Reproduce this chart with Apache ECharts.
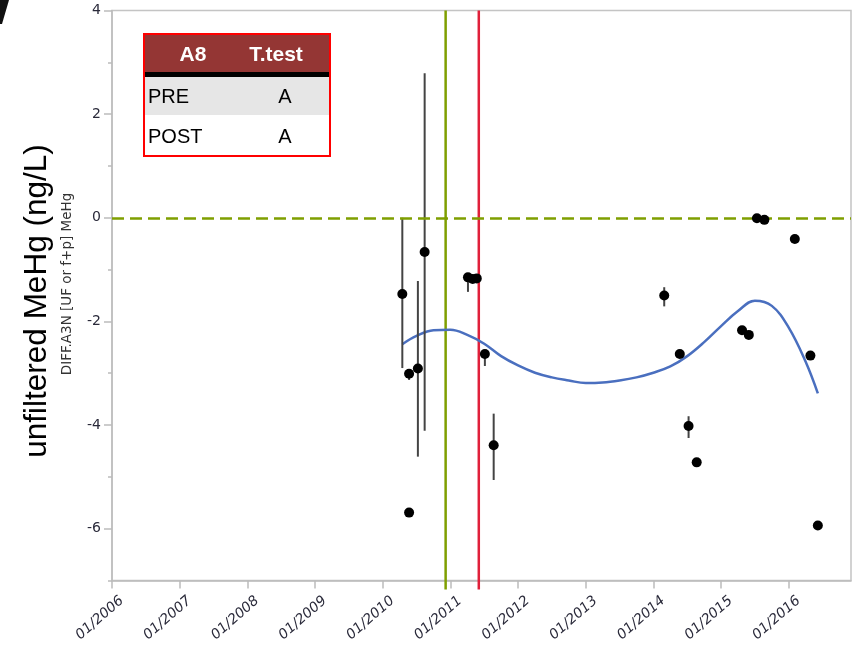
<!DOCTYPE html>
<html>
	<head>
		<meta charset="utf-8"/>
		<title>A8 MeHg</title>
		<style type="text/css">
			*{margin: 0;padding: 0;}
			html,body{width: 856px;height: 649px;background: #fff;overflow: hidden;}
			.chart{width: 856px;height: 649px;}
		</style>
		<script type="text/javascript" src="https://cdn.jsdelivr.net/npm/echarts@6/dist/echarts.min.js"></script>
	</head>
	<body>
		<div class="chart js-chart"></div>
		<script type="text/javascript">
			// 数据 (decimal years)
			var pointYears=[2010.29,2010.39,2010.39,2010.52,2010.62,2011.26,2011.33,2011.39,2011.51,2011.64,
				2014.16,2014.39,2014.52,2014.64,2015.31,2015.41,2015.53,2015.64,2016.09,2016.32,2016.43];
			var pointVals=[-1.47,-3.01,-5.69,-2.91,-0.66,-1.15,-1.18,-1.17,-2.63,-4.39,
				-1.50,-2.63,-4.02,-4.72,-2.17,-2.26,-0.01,-0.04,-0.41,-2.66,-5.94];
			// error bars
			var barYears=[2010.29,2010.39,2010.52,2010.62,2011.26,2011.51,2011.64,2014.16,2014.52];
			var barLow=[-2.90,-3.13,-4.61,-4.11,-1.43,-2.86,-5.06,-1.71,-4.25];
			var barHigh=[0,-3.01,-1.22,2.79,-1.15,-2.63,-3.78,-1.34,-3.83];
			// smooth fit
			var fitYears=[2010.29,2010.50,2010.75,2011.00,2011.25,2011.50,2011.75,2012.00,2012.25,2012.50,2012.75,2013.00,2013.25,
				2013.50,2013.75,2014.00,2014.25,2014.50,2014.75,2015.00,2015.25,2015.50,2015.75,2016.00,2016.25,2016.43];
			var fitVals=[-2.44,-2.28,-2.17,-2.16,-2.26,-2.43,-2.67,-2.85,-2.99,-3.08,-3.14,-3.19,-3.18,
				-3.14,-3.08,-2.99,-2.87,-2.67,-2.40,-2.09,-1.80,-1.60,-1.70,-2.12,-2.78,-3.39];
			var preDate=2010.93,postDate=2011.42;
			var yearTicks=[2006,2007,2008,2009,2010,2011,2012,2013,2014,2015,2016];
			var yLabels=[-6,-4,-2,0,2,4];
			var yMinor=[-7,-5,-3,-1,1,3];

			var chart=echarts.init(document.querySelector('.js-chart'));
			var pts=[],bars=[],fit=[];
			for(var i=0;i<pointYears.length;i++){pts.push([pointYears[i],pointVals[i]]);}
			for(var j=0;j<barYears.length;j++){bars.push([barYears[j],barLow[j],barHigh[j]]);}
			for(var k=0;k<fitYears.length;k++){fit.push([fitYears[k],fitVals[k]]);}
			var vColors=['#7f9f00','#e0203a'];

			var option={
				animation:false,
				grid:{left:112,right:5,top:10.5,bottom:68.5,show:true,borderColor:'#c4c4c4',borderWidth:1.5},
				xAxis:{
					type:'value',min:2006,max:2016.92,interval:1,
					axisLine:{onZero:false,lineStyle:{color:'#bcbcbc',width:1.5}},
					axisTick:{customValues:yearTicks,length:8,lineStyle:{color:'#bcbcbc',width:1.5}},
					axisLabel:{customValues:yearTicks,rotate:41,margin:27,padding:[0,-13,0,0],fontSize:14,color:'#2a2a3a',
						fontFamily:'DejaVu Sans',fontStyle:'italic',
						formatter:function(v){return '01/'+v;}},
					splitLine:{show:false}
				},
				yAxis:[{
					type:'value',min:-7,max:4,interval:1,
					axisLine:{show:true,onZero:false,lineStyle:{color:'#bcbcbc',width:1.5}},
					axisTick:{customValues:yLabels,length:8,lineStyle:{color:'#bcbcbc',width:1.5}},
					axisLabel:{customValues:yLabels,margin:11,fontSize:14,color:'#2a2a3a',fontFamily:'DejaVu Sans'},
					splitLine:{show:false}
				},{
					type:'value',min:-7,max:4,interval:1,position:'left',
					axisLine:{show:false,onZero:false},
					axisTick:{customValues:yMinor,length:4,lineStyle:{color:'#bcbcbc',width:1.5}},
					axisLabel:{show:false},
					splitLine:{show:false}
				}],
				graphic:[
					{type:'polygon',shape:{points:[[0,0],[9,0],[2,24],[0,24]]},style:{fill:'#111'}},
					{type:'text',x:37,y:301,rotation:Math.PI/2,
						style:{text:'unfiltered MeHg (ng/L)',fontSize:31.5,fontFamily:'Liberation Sans',fill:'#000',align:'center',verticalAlign:'middle'}},
					{type:'text',x:67,y:284,rotation:Math.PI/2,
						style:{text:'DIFF.A3N [UF or f+p] MeHg',fontSize:13.5,fontFamily:'DejaVu Sans',fill:'#333',align:'center',verticalAlign:'middle'}},
					// 表格
					{type:'rect',shape:{x:145,y:35,width:184,height:37},style:{fill:'#943634'}},
					{type:'rect',shape:{x:145,y:72,width:184,height:5},style:{fill:'#000'}},
					{type:'rect',shape:{x:145,y:77,width:184,height:38},style:{fill:'#e6e6e6'}},
					{type:'rect',shape:{x:144,y:34,width:186,height:122},style:{fill:'none',stroke:'#ff0000',lineWidth:2}},
					{type:'text',x:193,y:55,style:{text:'A8',fontSize:21,fontWeight:'bold',fontFamily:'Liberation Sans',fill:'#fff',align:'center',verticalAlign:'middle'}},
					{type:'text',x:276,y:55,style:{text:'T.test',fontSize:21,fontWeight:'bold',fontFamily:'Liberation Sans',fill:'#fff',align:'center',verticalAlign:'middle'}},
					{type:'text',x:148,y:97,style:{text:'PRE',fontSize:20,fontFamily:'Liberation Sans',fill:'#000',align:'left',verticalAlign:'middle'}},
					{type:'text',x:285,y:97,style:{text:'A',fontSize:20,fontFamily:'Liberation Sans',fill:'#000',align:'center',verticalAlign:'middle'}},
					{type:'text',x:148,y:137,style:{text:'POST',fontSize:20,fontFamily:'Liberation Sans',fill:'#000',align:'left',verticalAlign:'middle'}},
					{type:'text',x:285,y:137,style:{text:'A',fontSize:20,fontFamily:'Liberation Sans',fill:'#000',align:'center',verticalAlign:'middle'}}
				],
				series:[
					{
						// pre / post vertical lines
						type:'custom',z:1,clip:false,
						data:[[preDate,0],[postDate,0]],
						encode:{x:0,y:1},
						renderItem:function(params,api){
							var x=api.value(0);
							var top=api.coord([x,4]),bot=api.coord([x,-7]);
							return {type:'line',shape:{x1:top[0],y1:top[1],x2:bot[0],y2:bot[1]+9},
								style:{stroke:vColors[params.dataIndex],lineWidth:2.5}};
						}
					},
					{
						type:'line',z:2,data:[],
						markLine:{silent:true,symbol:'none',label:{show:false},
							lineStyle:{color:'#7f9f00',width:2.5,type:[12,6]},
							data:[{yAxis:0}]}
					},
					{
						type:'line',z:3,data:fit,smooth:0.4,showSymbol:false,
						lineStyle:{color:'#4a6fbf',width:2.5}
					},
					{
						type:'custom',z:4,data:bars,
						encode:{x:0,y:[1,2]},
						renderItem:function(params,api){
							var a=api.coord([api.value(0),api.value(1)]),b=api.coord([api.value(0),api.value(2)]);
							return {type:'line',shape:{x1:a[0],y1:a[1],x2:b[0],y2:b[1]},
								style:{stroke:'#444',lineWidth:2}};
						}
					},
					{
						type:'scatter',z:5,data:pts,symbolSize:10,
						itemStyle:{color:'#000',opacity:1}
					}
				]
			};
			chart.setOption(option);
		</script>
	</body>
</html>
